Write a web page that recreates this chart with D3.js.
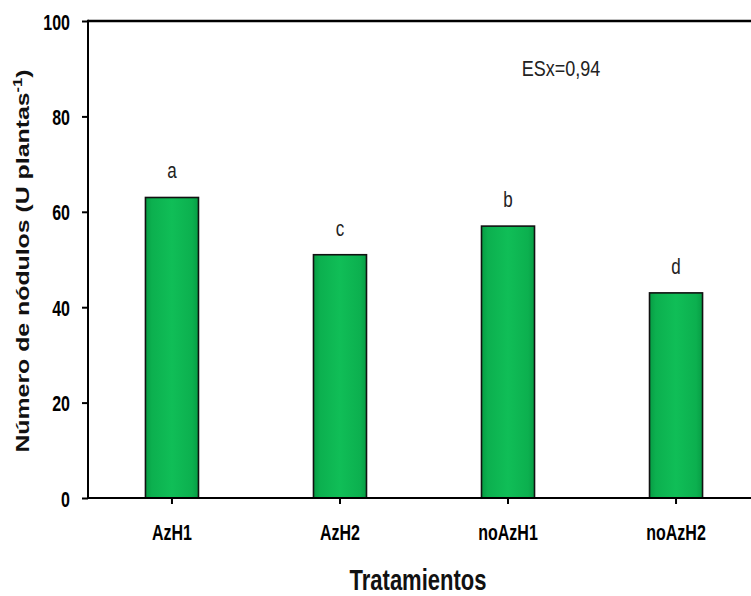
<!DOCTYPE html>
<html>
<head>
<meta charset="utf-8">
<script src="https://cdn.jsdelivr.net/npm/d3@7"></script>
<style>
  html, body { margin: 0; padding: 0; background: #ffffff; }
  svg { display: block; }
</style>
</head>
<body>
<svg id="chart" width="751" height="596"></svg>
<script>
// Nodule count per treatment
const categories = ["AzH1", "AzH2", "noAzH1", "noAzH2"];
const values = [63, 51, 57, 43];
const letters = ["a", "c", "b", "d"];
const yTicks = [0, 20, 40, 60, 80, 100];
const note = "ESx=0,94";

const svg = d3.select("#chart");
const W = 751, H = 596;
svg.append("rect").attr("width", W).attr("height", H).attr("fill", "#fff");

const plot = { left: 88, right: 760, top: 21, bottom: 498 };

const x = d3.scaleBand()
  .domain(categories)
  .range([plot.left, plot.right])
  .paddingInner(0.6845)
  .paddingOuter(0.342);

const y = d3.scaleLinear()
  .domain([0, 100])
  .range([plot.bottom, plot.top]);

// bar fill: slightly lighter centre stripe
const defs = svg.append("defs");
const grad = defs.append("linearGradient").attr("id", "barFill")
  .attr("x1", "0").attr("x2", "1").attr("y1", "0").attr("y2", "0");
[[0, "#079d44"], [0.12, "#0cb04f"], [0.5, "#10be57"], [0.88, "#0cb04f"], [1, "#079d44"]]
  .forEach(([o, c]) => grad.append("stop").attr("offset", o).attr("stop-color", c));

// bars
svg.append("g").selectAll("rect")
  .data(categories)
  .join("rect")
  .attr("x", d => x(d))
  .attr("width", x.bandwidth())
  .attr("y", (d, i) => y(values[i]))
  .attr("height", (d, i) => y(0) - y(values[i]))
  .attr("fill", "url(#barFill)")
  .attr("stroke", "#111")
  .attr("stroke-width", 1.6);

// significance letters above bars
svg.append("g").selectAll("text")
  .data(categories)
  .join("text")
  .attr("transform", (d, i) =>
    `translate(${x(d) + x.bandwidth() / 2},${y(values[i]) - 19}) scale(1,1.3)`)
  .attr("text-anchor", "middle")
  .attr("font-family", "'Liberation Sans Narrow', 'Liberation Sans', Arial, sans-serif")
  .attr("font-size", 17)
  .attr("fill", "#222")
  .text((d, i) => letters[i]);

// y axis
const yAxis = svg.append("g")
  .attr("transform", `translate(${plot.left},0)`)
  .call(d3.axisLeft(y).tickValues(yTicks).tickSize(6).tickSizeOuter(0));
yAxis.select(".domain").remove();
yAxis.selectAll(".tick line").attr("stroke", "#000").attr("stroke-width", 2);
yAxis.selectAll(".tick text")
  .attr("x", null).attr("dy", null)
  .attr("transform", "translate(-18,8) scale(1,1.35)")
  .attr("text-anchor", "end")
  .attr("font-family", "'Liberation Sans', Arial, sans-serif")
  .attr("font-weight", "bold")
  .attr("font-size", 16)
  .attr("fill", "#000");

// x axis
const xAxis = svg.append("g")
  .attr("transform", `translate(0,${plot.bottom})`)
  .call(d3.axisBottom(x).tickSize(6).tickSizeOuter(0));
xAxis.select(".domain").remove();
xAxis.selectAll(".tick line").attr("stroke", "#000").attr("stroke-width", 2);
xAxis.selectAll(".tick text")
  .attr("y", null).attr("dy", null)
  .attr("transform", "translate(0,42) scale(1,1.4)")
  .attr("font-family", "'Liberation Sans', Arial, sans-serif")
  .attr("font-weight", "bold")
  .attr("font-size", 16)
  .attr("fill", "#000");

// plot frame
svg.append("line")
  .attr("x1", plot.left).attr("x2", plot.right)
  .attr("y1", plot.top).attr("y2", plot.top)
  .attr("stroke", "#000").attr("stroke-width", 2.6);
svg.append("line")
  .attr("x1", plot.left).attr("x2", plot.left)
  .attr("y1", plot.top - 1.3).attr("y2", plot.bottom + 1)
  .attr("stroke", "#000").attr("stroke-width", 2);
svg.append("line")
  .attr("x1", plot.left - 1).attr("x2", plot.right)
  .attr("y1", plot.bottom).attr("y2", plot.bottom)
  .attr("stroke", "#000").attr("stroke-width", 2);
svg.append("line")
  .attr("x1", plot.right).attr("x2", plot.right)
  .attr("y1", plot.top).attr("y2", plot.bottom)
  .attr("stroke", "#000").attr("stroke-width", 2);

// standard error note
svg.append("text")
  .attr("transform", "translate(561,76) scale(1,1.25)")
  .attr("text-anchor", "middle")
  .attr("font-family", "'Liberation Sans', Arial, sans-serif")
  .attr("font-size", 18)
  .attr("fill", "#222")
  .text(note);

// axis titles
svg.append("text")
  .attr("transform", "translate(418,590) scale(1,1.33)")
  .attr("text-anchor", "middle")
  .attr("font-family", "'Liberation Sans', Arial, sans-serif")
  .attr("font-weight", "bold")
  .attr("font-size", 22)
  .attr("fill", "#111")
  .text("Tratamientos");

const yTitle = svg.append("text")
  .attr("transform", "translate(29,261) rotate(-90) scale(1.38,1)")
  .attr("text-anchor", "middle")
  .attr("font-family", "'Liberation Sans', Arial, sans-serif")
  .attr("font-weight", "bold")
  .attr("font-size", 18)
  .attr("fill", "#111");
yTitle.append("tspan").text("Número de nódulos (U plantas");
yTitle.append("tspan").attr("font-size", 12).attr("dy", -7).text("-1");
yTitle.append("tspan").attr("dy", 7).text(")");
</script>
</body>
</html>
